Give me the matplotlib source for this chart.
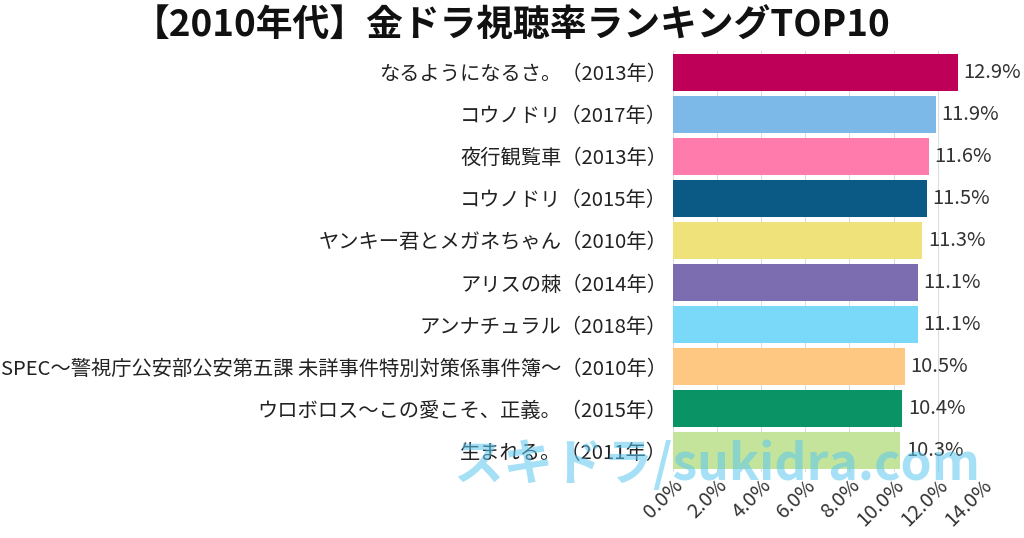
import matplotlib.pyplot as plt
from matplotlib.ticker import FuncFormatter

plt.rcParams['font.family'] = ['Noto Sans CJK JP', 'DejaVu Sans']

titles = [
    "なるようになるさ。（2013年）",
    "コウノドリ（2017年）",
    "夜行観覧車（2013年）",
    "コウノドリ（2015年）",
    "ヤンキー君とメガネちゃん（2010年）",
    "アリスの棘（2014年）",
    "アンナチュラル（2018年）",
    "SPEC～警視庁公安部公安第五課 未詳事件特別対策係事件簿～（2010年）",
    "ウロボロス～この愛こそ、正義。（2015年）",
    "生まれる。（2011年）",
]
ratings = [12.9, 11.9, 11.6, 11.5, 11.3, 11.1, 11.1, 10.5, 10.4, 10.3]
colors = ["#BE0059", "#7DB9E8", "#FF7BAC", "#0B5A85", "#F0E27A",
          "#7B6DAF", "#7AD9F9", "#FFC882", "#0A9465", "#C3E49A"]
xticks = [0, 2, 4, 6, 8, 10, 12, 14]

fig = plt.figure(figsize=(10.24, 5.38), dpi=100)
ax = fig.add_axes([0.657, 0.123, 0.302, 0.782])

y = list(range(len(titles)))
ax.barh(y, ratings, height=0.88, color=colors, zorder=2)
for i, v in enumerate(ratings):
    ax.text(v + 0.25, i, f"{v:.1f}%", va='center', ha='left', fontsize=14.5, color='#333333')

ax.set_yticks(y)
ax.set_yticklabels(titles, fontsize=14.6, color='#222222')
ax.set_ylim(len(titles) - 0.5, -0.5)
ax.set_xlim(0, 14)
ax.set_xticks(xticks)
ax.xaxis.set_major_formatter(FuncFormatter(lambda v, p: f"{v:.1f}%"))
ax.tick_params(axis='x', labelsize=14.5, labelcolor='#333333', length=0, pad=2)
ax.tick_params(axis='y', length=0, pad=4)
for lab in ax.get_xticklabels():
    lab.set_rotation(45)
    lab.set_ha('right')
    lab.set_rotation_mode('anchor')
ax.grid(axis='x', color='#DDDDDD', linewidth=0.8, zorder=0)
for s in ax.spines.values():
    s.set_visible(False)

fig.text(0.5, 0.952, "【2010年代】金ドラ視聴率ランキングTOP10", ha='center', va='center',
         fontsize=26.5, fontweight='bold', color='#111111')

# watermark
fig.text(0.70, 0.135, "スキドラ/sukidra.com", ha='center', va='center',
         fontsize=36, fontweight='bold', color='#5BC8F0', alpha=0.55, zorder=10)

fig.savefig("out.png", dpi=100)
